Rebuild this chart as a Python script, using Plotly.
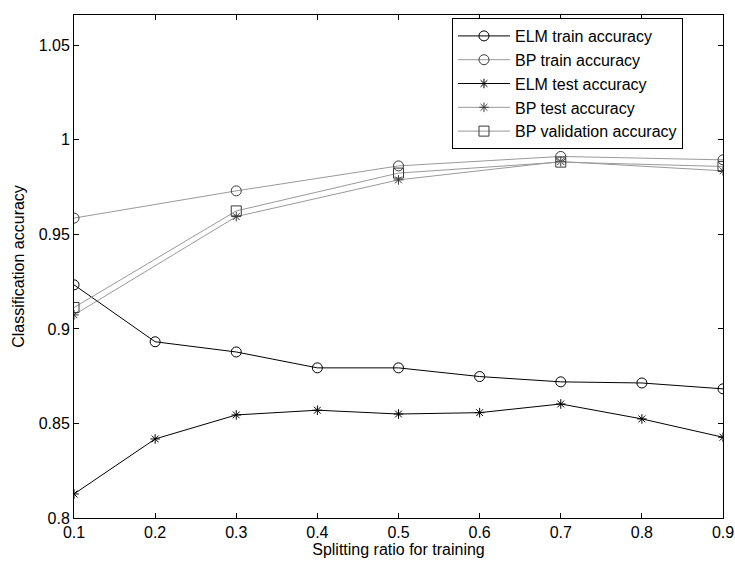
import plotly.graph_objects as go

ratios = [0.1, 0.2, 0.3, 0.4, 0.5, 0.6, 0.7, 0.8, 0.9]
elm_train = [0.9233, 0.8932, 0.8878, 0.8794, 0.8794, 0.8748, 0.8720, 0.8714, 0.8683]
elm_test = [0.8127, 0.8418, 0.8545, 0.8570, 0.8550, 0.8557, 0.8603, 0.8524, 0.8427]

bp_ratios = [0.1, 0.3, 0.5, 0.7, 0.9]
bp_train = [0.9586, 0.9730, 0.9862, 0.9912, 0.9894]
bp_test = [0.9074, 0.9594, 0.9788, 0.9885, 0.9836]
bp_val = [0.9113, 0.9624, 0.9824, 0.9882, 0.9859]

x_ticks = [0.1, 0.2, 0.3, 0.4, 0.5, 0.6, 0.7, 0.8, 0.9]
y_ticks = [0.8, 0.85, 0.9, 0.95, 1.0, 1.05]
y_tick_labels = ["0.8", "0.85", "0.9", "0.95", "1", "1.05"]

FONT = "Liberation Sans, Arial, sans-serif"
BLACK = "#000000"
GRAY_LINE = "#999999"
GRAY_MARK = "#3a3a3a"

fig = go.Figure()
fig.add_trace(go.Scatter(
    x=ratios, y=elm_train, mode="lines+markers", name="ELM train accuracy",
    line=dict(color=BLACK, width=1),
    marker=dict(symbol="circle-open", size=10, color=BLACK, line=dict(width=1, color=BLACK)),
))
fig.add_trace(go.Scatter(
    x=bp_ratios, y=bp_train, mode="lines+markers", name="BP train accuracy",
    line=dict(color=GRAY_LINE, width=1),
    marker=dict(symbol="circle-open", size=10, color=GRAY_MARK, line=dict(width=1, color=GRAY_MARK)),
))
fig.add_trace(go.Scatter(
    x=ratios, y=elm_test, mode="lines+markers", name="ELM test accuracy",
    line=dict(color=BLACK, width=1),
    marker=dict(symbol="asterisk-open", size=8, color=BLACK, line=dict(width=1, color=BLACK)),
))
fig.add_trace(go.Scatter(
    x=bp_ratios, y=bp_test, mode="lines+markers", name="BP test accuracy",
    line=dict(color=GRAY_LINE, width=1),
    marker=dict(symbol="asterisk-open", size=8, color=GRAY_MARK, line=dict(width=1, color=GRAY_MARK)),
))
fig.add_trace(go.Scatter(
    x=bp_ratios, y=bp_val, mode="lines+markers", name="BP validation accuracy",
    line=dict(color=GRAY_LINE, width=1),
    marker=dict(symbol="square-open", size=10, color=GRAY_MARK, line=dict(width=1, color=GRAY_MARK)),
))

axis_common = dict(
    showline=True, linecolor=BLACK, linewidth=1, mirror="ticks",
    ticks="inside", ticklen=5, tickcolor=BLACK, showgrid=False, zeroline=False,
    automargin=False,
    tickfont=dict(family=FONT, size=16, color=BLACK),
)

fig.update_layout(
    width=735, height=567,
    margin=dict(l=74, r=12, t=15, b=49),
    paper_bgcolor="white", plot_bgcolor="white",
    font=dict(family=FONT, size=16, color=BLACK),
    xaxis=dict(range=[0.1, 0.9], tickvals=x_ticks, ticktext=[f"{v:g}" for v in x_ticks],
               title=dict(text="Splitting ratio for training", font=dict(family=FONT, size=16), standoff=3),
               **axis_common),
    yaxis=dict(range=[0.8, 1.066], tickvals=y_ticks, ticktext=y_tick_labels,
               title=dict(text="Classification accuracy", font=dict(family=FONT, size=16), standoff=10),
               **axis_common),
    legend=dict(x=0.5824, y=0.994, xanchor="left", yanchor="top",
                bgcolor="white", bordercolor=BLACK, borderwidth=1,
                font=dict(family=FONT, size=16, color=BLACK),
                tracegroupgap=0, itemwidth=52),
    showlegend=True,
)

fig.write_html("out.html",
               config={"displayModeBar": False},
               post_script="document.body.style.margin='0';document.body.style.overflow='hidden';")
